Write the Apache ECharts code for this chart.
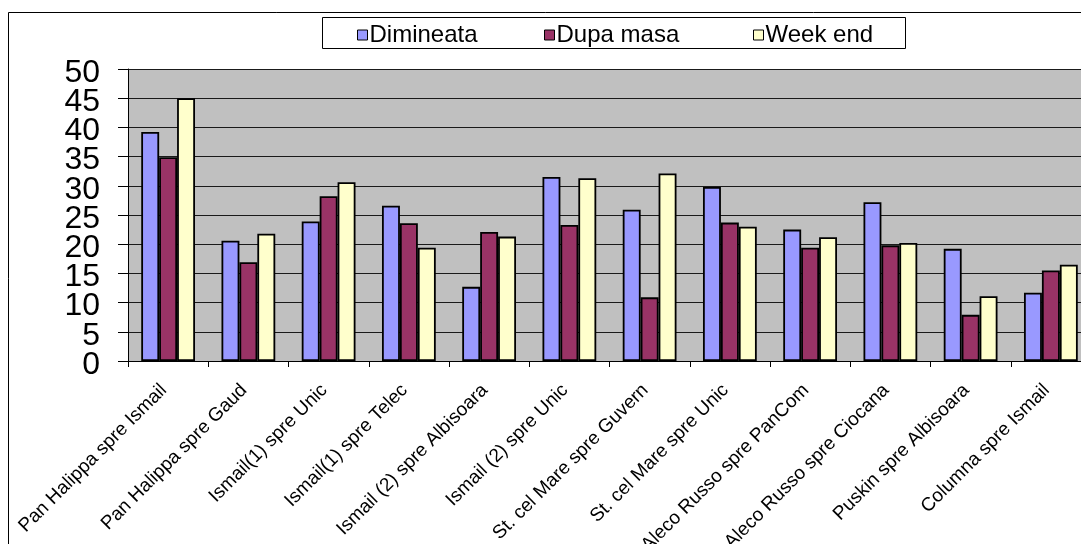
<!DOCTYPE html>
<html>
<head>
<meta charset="utf-8">
<script src="https://cdn.jsdelivr.net/npm/echarts@6/dist/echarts.min.js"></script>
<style>
  html, body { margin: 0; padding: 0; background: #fff; }
  #chart { width: 1081px; height: 544px; }
</style>
</head>
<body>
<div id="chart"></div>
<script>
// Traffic counts per route and time of day
const categories = [
  'Pan Halippa spre Ismail',
  'Pan Halippa spre Gaud',
  'Ismail(1) spre Unic',
  'Ismail(1) spre Telec',
  'Ismail (2) spre Albisoara',
  'Ismail (2) spre Unic',
  'St. cel Mare spre Guvern',
  'St. cel Mare spre Unic',
  'Aleco Russo spre PanCom',
  'Aleco Russo spre Ciocana',
  'Puskin spre Albisoara',
  'Columna spre Ismail'
];
const seriesNames = ['Dimineata', 'Dupa masa', 'Week end'];
const dimineata = [39.2, 20.6, 23.9, 26.6, 12.7, 31.5, 25.9, 29.8, 22.5, 27.2, 19.2, 11.7];
const dupaMasa  = [34.9, 16.9, 28.2, 23.6, 22.1, 23.3, 10.9, 23.7, 19.4, 19.8, 7.9, 15.5];
const weekEnd   = [45.0, 21.8, 30.6, 19.4, 21.3, 31.3, 32.1, 23.0, 21.2, 20.2, 11.1, 16.5];
const yTicks = [0, 5, 10, 15, 20, 25, 30, 35, 40, 45, 50];

const colors = ['#9999FF', '#993366', '#FFFFCC'];
const FONT = '"Liberation Sans", Arial, sans-serif';
const legendLeft = [357, 544, 753];

// plot area
const PLOT = { left: 128, top: 69, right: -10, bottom: 183 };
const yMin = yTicks[0];
const yMax = yTicks[yTicks.length - 1];
const yStep = yTicks[1] - yTicks[0];
const pxPerStep = (544 - PLOT.top - PLOT.bottom) / ((yMax - yMin) / yStep);
const labelDrop = 4; // tick labels sit slightly below their gridline

const chart = echarts.init(document.getElementById('chart'), null, { renderer: 'canvas' });

function barSeries(name, data, color) {
  return {
    name: name,
    type: 'bar',
    data: data,
    barGap: '0%',
    barCategoryGap: '33%',
    itemStyle: { color: color, borderColor: '#000', borderWidth: 1.8 },
    emphasis: { disabled: true }
  };
}

// one legend block per series so each entry sits in its own column
const legends = seriesNames.map((name, i) => ({
  data: [name],
  left: legendLeft[i],
  top: 23,
  padding: 0,
  itemWidth: 10,
  itemHeight: 10,
  icon: 'rect',
  selectedMode: false,
  itemStyle: { borderColor: '#000', borderWidth: 1 },
  textStyle: { fontFamily: FONT, fontSize: 24, color: '#000', padding: [3, 0, 0, -3] },
  z: 5
}));

const yLabelStyle = {
  margin: 28,
  fontFamily: FONT,
  fontSize: 32,
  color: '#000'
};

// The large value labels are drawn on two label-only axes (even and odd
// steps) so neighbouring labels never collide and none gets dropped.
const hiddenX = (gridIndex) => ({
  type: 'category', gridIndex: gridIndex, data: categories,
  show: false
});

chart.setOption({
  animation: false,
  backgroundColor: '#fff',
  textStyle: { fontFamily: FONT },
  graphic: [
    {
      // outer chart frame
      type: 'rect',
      shape: { x: 8.5, y: 12.5, width: 1200, height: 1000 },
      style: { fill: 'none', stroke: '#000', lineWidth: 1 },
      silent: true,
      z: -1
    },
    {
      // legend frame
      type: 'rect',
      shape: { x: 322.5, y: 17.5, width: 583, height: 31 },
      style: { fill: '#fff', stroke: '#000', lineWidth: 1 },
      silent: true,
      z: 0
    }
  ],
  legend: legends,
  grid: [
    {
      left: PLOT.left, top: PLOT.top, right: PLOT.right, bottom: PLOT.bottom,
      show: true, backgroundColor: '#C0C0C0', borderWidth: 0,
      containLabel: false, outerBoundsMode: 'none'
    },
    {
      left: PLOT.left, top: PLOT.top + labelDrop, right: PLOT.right, bottom: PLOT.bottom - labelDrop,
      containLabel: false, outerBoundsMode: 'none'
    },
    {
      left: PLOT.left,
      top: PLOT.top - pxPerStep + labelDrop,
      right: PLOT.right,
      bottom: PLOT.bottom - pxPerStep - labelDrop,
      containLabel: false, outerBoundsMode: 'none'
    }
  ],
  xAxis: [
    {
      type: 'category',
      gridIndex: 0,
      data: categories,
      axisLine: { lineStyle: { color: '#000', width: 1 } },
      axisTick: { show: true, length: 6, lineStyle: { color: '#000' } },
      axisLabel: {
        rotate: 45,
        interval: 0,
        margin: 22,
        fontFamily: FONT,
        fontSize: 19,
        color: '#000',
        padding: [0, 6, 0, 0],
        hideOverlap: false
      },
      splitLine: { show: false }
    },
    hiddenX(1),
    hiddenX(2)
  ],
  yAxis: [
    {
      // main value axis: line, ticks and gridlines
      type: 'value',
      gridIndex: 0,
      min: yMin,
      max: yMax,
      interval: yStep,
      axisLine: { show: true, lineStyle: { color: '#000', width: 1 } },
      axisTick: { show: true, length: 10, inside: false, lineStyle: { color: '#000' } },
      axisLabel: { show: false },
      splitLine: { show: true, lineStyle: { color: '#1a1a1a', width: 1 } }
    },
    {
      // labels 0, 10, ... 50
      type: 'value',
      gridIndex: 1,
      min: yMin,
      max: yMax,
      interval: yStep * 2,
      axisLine: { show: false },
      axisTick: { show: false },
      splitLine: { show: false },
      axisLabel: Object.assign({ showMinLabel: true, showMaxLabel: true }, yLabelStyle)
    },
    {
      // labels 5, 15, ... 45
      type: 'value',
      gridIndex: 2,
      min: yMin - yStep,
      max: yMax + yStep,
      interval: yStep * 2,
      axisLine: { show: false },
      axisTick: { show: false },
      splitLine: { show: false },
      axisLabel: Object.assign({
        showMinLabel: false,
        showMaxLabel: false,
        formatter: (v) => (v < yMin || v > yMax) ? '' : String(v)
      }, yLabelStyle)
    }
  ],
  series: [
    barSeries(seriesNames[0], dimineata, colors[0]),
    barSeries(seriesNames[1], dupaMasa, colors[1]),
    barSeries(seriesNames[2], weekEnd, colors[2])
  ]
});
</script>
</body>
</html>
